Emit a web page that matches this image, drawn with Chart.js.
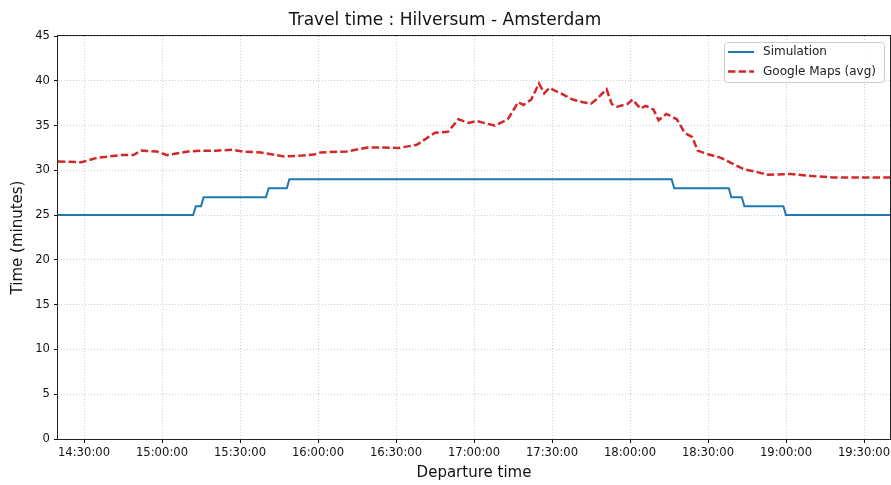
<!DOCTYPE html>
<html>
<head>
<meta charset="utf-8">
<title>Travel time : Hilversum - Amsterdam</title>
<script src="https://cdn.jsdelivr.net/npm/chart.js@4.4.1/dist/chart.umd.min.js"></script>
<style>
  html, body { margin: 0; padding: 0; background: #fff; }
  #wrap { width: 891px; height: 485px; }
</style>
</head>
<body>
<div id="wrap"><canvas id="travelChart" width="891" height="485"></canvas></div>
<script>
    // data (departure time -> minutes)
    var xTickLabels = ['14:30:00', '15:00:00', '15:30:00', '16:00:00', '16:30:00', '17:00:00',
        '17:30:00', '18:00:00', '18:30:00', '19:00:00', '19:30:00'];

    var simTimes = ['14:20', '15:12', '15:13', '15:15', '15:16', '15:40', '15:41', '15:48', '15:49',
        '18:16', '18:17', '18:38', '18:39', '18:43', '18:44', '18:59', '19:00', '19:40'];
    var simValues = [25, 25, 26, 26, 27, 27, 28, 28, 29, 29, 28, 28, 27, 27, 26, 26, 25, 25];

    var gmTimes = ['14:20', '14:29', '14:35', '14:44', '14:49', '14:52', '14:58', '15:02', '15:10', '15:15',
        '15:21', '15:27', '15:31', '15:38', '15:42', '15:47', '15:54', '15:59', '16:01', '16:11',
        '16:19', '16:24', '16:31', '16:38', '16:45', '16:50', '16:54', '16:58', '17:01', '17:08',
        '17:13', '17:17', '17:19', '17:22', '17:25', '17:27', '17:29', '17:34', '17:38', '17:42',
        '17:45', '17:47', '17:51', '17:53', '17:55', '17:59', '18:01', '18:04', '18:06', '18:09',
        '18:11', '18:14', '18:18', '18:21', '18:24', '18:26', '18:30', '18:35', '18:39', '18:44',
        '18:49', '18:53', '19:02', '19:08', '19:18', '19:40'];
    var gmValues = [31.0, 30.9, 31.4, 31.7, 31.7, 32.2, 32.1, 31.7, 32.1, 32.2,
        32.2, 32.3, 32.1, 32.0, 31.8, 31.55, 31.65, 31.8, 32.0, 32.1,
        32.55, 32.55, 32.5, 32.85, 34.2, 34.3, 35.7, 35.3, 35.5, 35.0,
        35.7, 37.6, 37.3, 37.9, 39.7, 38.6, 39.2, 38.5, 37.9, 37.6,
        37.45, 37.9, 39.05, 37.4, 37.1, 37.4, 37.9, 36.9, 37.2, 36.8,
        35.6, 36.3, 35.7, 34.2, 33.7, 32.2, 31.8, 31.4, 30.8, 30.1,
        29.8, 29.5, 29.6, 29.4, 29.2, 29.2];

    function toMin(s) {
        var p = s.split(':');
        return parseInt(p[0], 10) * 60 + parseInt(p[1], 10);
    }
    function fmtMin(v) {
        var h = Math.floor(v / 60), m = Math.round(v % 60);
        return h + ':' + (m < 10 ? '0' : '') + m + ':00';
    }
    function points(times, values) {
        return times.map(function (t, i) { return { x: toMin(t), y: values[i] }; });
    }

    var FONT = "'DejaVu Sans', sans-serif";
    var gridColor = '#b0c4de';

    // frame round the plot + legend box like matplotlib
    var framePlugin = {
        id: 'frame',
        afterDraw: function (chart) {
            var ctx = chart.ctx, a = chart.chartArea;
            ctx.save();
            ctx.strokeStyle = '#222';
            ctx.lineWidth = 1;
            ctx.setLineDash([]);
            ctx.strokeRect(Math.round(a.left) - 0.5, Math.round(a.top) - 0.5,
                Math.round(a.right - a.left) + 1, Math.round(a.bottom - a.top) + 1);

            // legend
            ctx.font = '12px ' + FONT;
            var ds = chart.data.datasets;
            var textW = 0;
            ds.forEach(function (d) { textW = Math.max(textW, ctx.measureText(d.label).width); });
            var w = 4 + 26 + 9 + textW + 8, h = 40;
            var x = a.right - 6 - w, y = a.top + 6;
            ctx.beginPath();
            if (ctx.roundRect) ctx.roundRect(x + 0.5, y + 0.5, w, h, 3); else ctx.rect(x + 0.5, y + 0.5, w, h);
            ctx.fillStyle = 'rgba(255,255,255,0.8)';
            ctx.fill();
            ctx.strokeStyle = '#cccccc';
            ctx.stroke();
            ds.forEach(function (d, i) {
                var cy = y + 10 + i * 19.5;
                ctx.beginPath();
                ctx.strokeStyle = d.borderColor;
                ctx.lineWidth = d.borderWidth;
                ctx.setLineDash(d.borderDash || []);
                ctx.moveTo(x + 4, cy);
                ctx.lineTo(x + 30, cy);
                ctx.stroke();
                ctx.setLineDash([]);
                ctx.fillStyle = '#222';
                ctx.textBaseline = 'middle';
                ctx.fillText(d.label, x + 39, cy);
            });
            ctx.restore();
        }
    };

    var ctxT = document.getElementById('travelChart').getContext('2d');
    var travelChart = new Chart(ctxT, {
        type: 'line',
        data: {
            datasets: [{
                label: 'Simulation',
                data: points(simTimes, simValues),
                borderColor: '#1f77b4',
                borderWidth: 2,
                pointRadius: 0,
                tension: 0,
                fill: false
            }, {
                label: 'Google Maps (avg)',
                data: points(gmTimes, gmValues),
                borderColor: '#d62728',
                borderWidth: 2.5,
                borderDash: [7.4, 3.2],
                pointRadius: 0,
                tension: 0,
                fill: false
            }]
        },
        options: {
            responsive: false,
            animation: false,
            devicePixelRatio: 1,
            layout: { padding: { left: 0, right: 1, top: 0, bottom: 0 } },
            plugins: {
                legend: { display: false },
                tooltip: { enabled: false },
                title: {
                    display: true,
                    text: 'Travel time : Hilversum - Amsterdam',
                    color: '#111',
                    font: { family: FONT, size: 17, weight: 'normal' },
                    padding: { top: 10, bottom: 5.6 }
                }
            },
            scales: {
                x: {
                    type: 'linear',
                    min: toMin('14:20'),
                    max: toMin('19:40'),
                    afterBuildTicks: function (scale) {
                        scale.ticks = xTickLabels.map(function (s) { return { value: toMin(s) }; });
                    },
                    afterFit: function (scale) {
                        scale.height = 46;
                        scale.paddingLeft = 0;
                        scale.paddingRight = 0;
                    },
                    ticks: {
                        autoSkip: false,
                        maxRotation: 0,
                        padding: 3,
                        color: '#111',
                        font: { family: FONT, size: 11.6 },
                        callback: function (v) { return fmtMin(v); }
                    },
                    grid: {
                        color: gridColor,
                        lineWidth: 0.8,
                        tickColor: '#111',
                        tickLength: 4,
                        tickBorderDash: [],
                        tickWidth: 1
                    },
                    border: { display: false, dash: [1, 2] },
                    title: {
                        display: true,
                        text: 'Departure time',
                        color: '#111',
                        font: { family: FONT, size: 15 },
                        padding: { top: 0, bottom: 3 }
                    }
                },
                y: {
                    min: 0,
                    max: 45,
                    afterFit: function (scale) {
                        scale.width = 58;
                        scale.paddingTop = 0;
                        scale.paddingBottom = 0;
                    },
                    ticks: {
                        stepSize: 5,
                        padding: 4,
                        color: '#111',
                        font: { family: FONT, size: 11.6 }
                    },
                    grid: {
                        color: gridColor,
                        lineWidth: 0.8,
                        tickColor: '#111',
                        tickLength: 4,
                        tickBorderDash: [],
                        tickWidth: 1
                    },
                    border: { display: false, dash: [1, 2] },
                    title: {
                        display: true,
                        text: 'Time (minutes)',
                        color: '#111',
                        font: { family: FONT, size: 15 },
                        padding: { top: 9, bottom: 0 }
                    }
                }
            }
        },
        plugins: [framePlugin]
    });
</script>
</body>
</html>
